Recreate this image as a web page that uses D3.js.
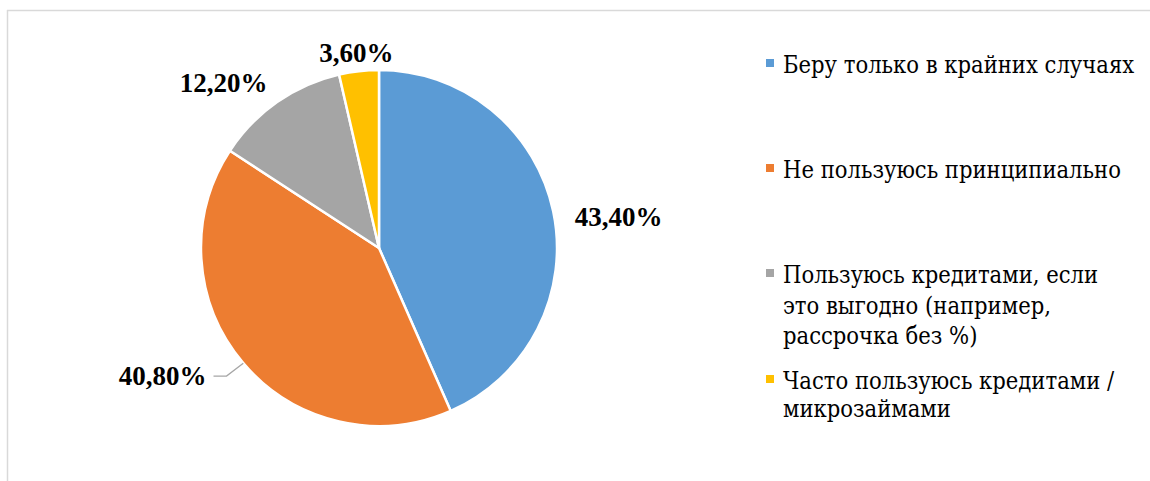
<!DOCTYPE html>
<html>
<head>
<meta charset="utf-8">
<script src="https://cdn.jsdelivr.net/npm/d3@7"></script>
<style>
  html, body { margin: 0; padding: 0; background: #fff; }
  svg { display: block; }
</style>
</head>
<body>
<svg id="chart" width="1150" height="481"></svg>
<script>
// Answer categories and their shares (%)
const categories = [
  "Беру только в крайних случаях",
  "Не пользуюсь принципиально",
  "Пользуюсь кредитами, если это выгодно (например, рассрочка без %)",
  "Часто пользуюсь кредитами / микрозаймами"
];
const values = [43.4, 40.8, 12.2, 3.6];
const valueLabels = ["43,40%", "40,80%", "12,20%", "3,60%"];
// Legend text broken into lines
const legendLines = [
  ["Беру только в крайних случаях"],
  ["Не пользуюсь принципиально"],
  ["Пользуюсь кредитами, если", "это выгодно (например,", "рассрочка без %)"],
  ["Часто пользуюсь кредитами /", "микрозаймами"]
];
const colors = ["#5b9bd5", "#ed7d31", "#a5a5a5", "#ffc000"];

const svg = d3.select("#chart");
const W = 1150, H = 481;

// chart area frame (top and left edges visible)
svg.append("line").attr("x1", 7).attr("x2", W).attr("y1", 10.5).attr("y2", 10.5)
  .attr("stroke", "#d9d9d9").attr("stroke-width", 1.5);
svg.append("line").attr("x1", 7.5).attr("x2", 7.5).attr("y1", 10).attr("y2", H)
  .attr("stroke", "#d9d9d9").attr("stroke-width", 1.5);

const cx = 379, cy = 248, R = 178;
const g = svg.append("g").attr("transform", `translate(${cx},${cy})`);

const pie = d3.pie().sort(null).value(d => d.v);
const data = values.map((v, i) => ({ v, i }));
const arcs = pie(data);
const arc = d3.arc().innerRadius(0).outerRadius(R);

g.selectAll("path.slice").data(arcs).enter().append("path")
  .attr("class", "slice")
  .attr("d", arc)
  .attr("fill", d => colors[d.data.i])
  .attr("stroke", "#fff")
  .attr("stroke-width", 2.5)
  .attr("stroke-linejoin", "round");

// data labels placed outside the pie along each slice's mid-angle
const labelR = 200;
const mid = d => (d.startAngle + d.endAngle) / 2;
const numFont = "'Liberation Serif', 'Times New Roman', serif";
const textFont = "'DejaVu Serif Condensed', 'DejaVu Serif', serif";

arcs.forEach(d => {
  const a = mid(d);
  const sx = Math.sin(a), sy = -Math.cos(a);
  const i = d.data.i;
  let x = sx * labelR, y = sy * labelR, anchor;
  if (Math.abs(sx) < 0.3) anchor = "middle";
  else anchor = sx > 0 ? "start" : "end";

  if (i === 1) {
    // leader line: from slice edge to elbow, then horizontal
    const ex = sx * R, ey = sy * R;
    const bx = sx * labelR, by = sy * (labelR - 2);
    const hx = bx - 13;
    g.append("polyline")
      .attr("points", `${ex},${ey} ${bx},${by} ${hx},${by}`)
      .attr("fill", "none").attr("stroke", "#a6a6a6").attr("stroke-width", 1.3);
    x = hx - 7; y = by - 1;
  }
  if (i === 0) { y += 10; }
  if (i === 2) { x += 3; y -= 1; }
  if (i === 3) { y += 3; }

  g.append("text")
    .attr("x", x).attr("y", y)
    .attr("dy", "0.35em")
    .attr("text-anchor", anchor)
    .attr("font-family", numFont)
    .attr("font-weight", "bold")
    .attr("font-size", 27)
    .attr("fill", "#000")
    .text(valueLabels[i]);
});

// legend
const legendY = [73, 178, 283, 389];
const lineStep = [30, 30, 30.5, 28];
const leg = svg.append("g");
legendLines.forEach((lines, i) => {
  leg.append("rect")
    .attr("x", 766).attr("y", legendY[i] - 14)
    .attr("width", 8).attr("height", 8)
    .attr("fill", colors[i]);
  const t = leg.append("text")
    .attr("font-family", textFont)
    .attr("font-size", 23.5)
    .attr("fill", "#000");
  lines.forEach((ln, k) => {
    t.append("tspan").attr("x", 783).attr("y", legendY[i] + k * lineStep[i]).text(ln);
  });
});
</script>
</body>
</html>
